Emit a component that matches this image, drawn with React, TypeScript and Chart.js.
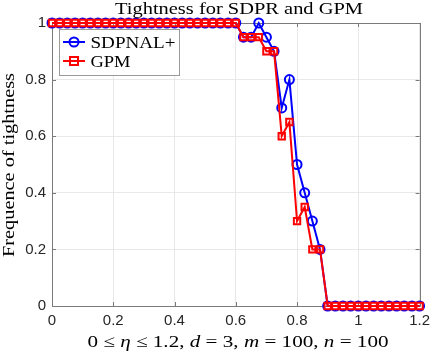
import { useEffect, useRef } from "react";
import { Chart, registerables } from "chart.js";

Chart.register(...registerables);

const etaValues = [
  0, 0.025, 0.05, 0.075, 0.1, 0.125, 0.15, 0.175, 0.2, 0.225, 0.25, 0.275, 0.3, 0.325, 0.35, 0.375,
  0.4, 0.425, 0.45, 0.475, 0.5, 0.525, 0.55, 0.575, 0.6, 0.625, 0.65, 0.675, 0.7, 0.725, 0.75, 0.775,
  0.8, 0.825, 0.85, 0.875, 0.9, 0.925, 0.95, 0.975, 1, 1.025, 1.05, 1.075, 1.1, 1.125, 1.15, 1.175, 1.2,
];
const sdpnalValues = [
  1, 1, 1, 1, 1, 1, 1, 1, 1, 1, 1, 1, 1, 1, 1, 1, 1, 1, 1, 1, 1, 1, 1, 1, 1,
  0.95, 0.95, 1, 0.95, 0.9, 0.7, 0.8, 0.5, 0.4, 0.3, 0.2,
  0, 0, 0, 0, 0, 0, 0, 0, 0, 0, 0, 0, 0,
];
const gpmValues = [
  1, 1, 1, 1, 1, 1, 1, 1, 1, 1, 1, 1, 1, 1, 1, 1, 1, 1, 1, 1, 1, 1, 1, 1, 1,
  0.95, 0.95, 0.95, 0.9, 0.9, 0.6, 0.65, 0.3, 0.35, 0.2, 0.2,
  0, 0, 0, 0, 0, 0, 0, 0, 0, 0, 0, 0, 0,
];
const xTicks = [0, 0.2, 0.4, 0.6, 0.8, 1, 1.2];
const yTicks = [0, 0.2, 0.4, 0.6, 0.8, 1];
const titleText = "Tightness for SDPR and GPM";
const yLabelText = "Frequence of tightness";
const seriesNames = ["SDPNAL+", "GPM"];
const seriesColors = ["#0000ff", "#ff0000"];

const SERIF = '"Liberation Serif", "DejaVu Serif", serif';
const SANS = '"Liberation Sans", Arial, sans-serif';

// x-label pieces: [text, italic]
const xLabelParts: [string, boolean][] = [
  ["0 \u2264 ", false],
  ["\u03B7", true],
  [" \u2264 1.2, ", false],
  ["d", true],
  [" = 3, ", false],
  ["m", true],
  [" = 100, ", false],
  ["n", true],
  [" = 100", false],
];

const fmt = (v: number) => String(Number(v.toFixed(2)));

// draw parts of text stretched horizontally to a target width, starting at left x
function drawParts(ctx: any, parts: [string, boolean][], size: number, left: number, y: number, targetW: number) {
  const fontFor = (it: boolean) => `${it ? "italic " : ""}${size}px ${SERIF}`;
  let total = 0;
  for (const [t, it] of parts) {
    ctx.font = fontFor(it);
    total += ctx.measureText(t).width;
  }
  const s = targetW / total;
  ctx.save();
  ctx.translate(left, y);
  ctx.scale(s, 1);
  ctx.textAlign = "left";
  let x = 0;
  for (const [t, it] of parts) {
    ctx.font = fontFor(it);
    ctx.fillText(t, x, 0);
    x += ctx.measureText(t).width;
  }
  ctx.restore();
}

const decorPlugin = {
  id: "decor",
  beforeDatasetsDraw(chart: any) {
    const { ctx, chartArea: a } = chart;
    ctx.save();
    ctx.strokeStyle = "#7a7a7a";
    ctx.lineWidth = 1;
    ctx.beginPath();
    ctx.rect(Math.round(a.left) + 0.5, Math.round(a.top) + 0.5, Math.round(a.right - a.left), Math.round(a.bottom - a.top));
    ctx.stroke();
    const xs = chart.scales.x;
    const ys = chart.scales.y;
    ctx.beginPath();
    for (const v of xTicks) {
      const px = Math.round(xs.getPixelForValue(v)) + 0.5;
      ctx.moveTo(px, a.bottom);
      ctx.lineTo(px, a.bottom - 4);
      ctx.moveTo(px, a.top);
      ctx.lineTo(px, a.top + 4);
    }
    for (const v of yTicks) {
      const py = Math.round(ys.getPixelForValue(v)) + 0.5;
      ctx.moveTo(a.left, py);
      ctx.lineTo(a.left + 4, py);
      ctx.moveTo(a.right, py);
      ctx.lineTo(a.right - 4, py);
    }
    ctx.stroke();
    ctx.restore();
  },
  afterDraw(chart: any) {
    const { ctx, chartArea: a } = chart;
    ctx.save();
    ctx.fillStyle = "#000";
    ctx.textBaseline = "alphabetic";
    // title
    drawParts(ctx, [[titleText, false]], 17, 239 - 124, 14, 248);
    // y label
    ctx.save();
    ctx.translate(14, 165);
    ctx.rotate(-Math.PI / 2);
    drawParts(ctx, [[yLabelText, false]], 17, -92, 0, 184);
    ctx.restore();
    // x label
    drawParts(ctx, xLabelParts, 17, 238 - 150.5, 347, 301);
    // legend
    const lx = 59.5, ly = 29.5, lw = 120, lh = 46;
    ctx.fillStyle = "#fff";
    ctx.fillRect(lx, ly, lw, lh);
    ctx.strokeStyle = "#9a9a9a";
    ctx.lineWidth = 1;
    ctx.strokeRect(lx, ly, lw, lh);
    const rows = [42, 61];
    const widths = [85, 40];
    seriesNames.forEach((name, i) => {
      const y = rows[i];
      ctx.strokeStyle = seriesColors[i];
      ctx.lineWidth = 2;
      ctx.beginPath();
      ctx.moveTo(63, y);
      ctx.lineTo(85, y);
      ctx.stroke();
      ctx.beginPath();
      if (i === 0) {
        ctx.arc(74, y, 4.5, 0, Math.PI * 2);
      } else {
        ctx.rect(70, y - 4, 8, 8);
      }
      ctx.stroke();
      ctx.fillStyle = "#000";
      ctx.textBaseline = "alphabetic";
      drawParts(ctx, [[name, false]], 17, 90.5, y + 6, widths[i]);
    });
    ctx.restore();
  },
};

export default function App() {
  const canvasRef = useRef<HTMLCanvasElement | null>(null);

  useEffect(() => {
    const canvas = canvasRef.current;
    if (!canvas) return;
    const mk = (vals: number[]) => etaValues.map((x, i) => ({ x, y: vals[i] }));
    const chart = new Chart(canvas, {
      type: "line",
      data: {
        datasets: [
          {
            label: seriesNames[0],
            data: mk(sdpnalValues),
            borderColor: seriesColors[0],
            backgroundColor: "rgba(0,0,0,0)",
            borderWidth: 2,
            pointStyle: "circle",
            pointRadius: 4.5,
            pointBorderWidth: 2,
            pointBorderColor: seriesColors[0],
            pointBackgroundColor: "rgba(0,0,0,0)",
            tension: 0,
            clip: false as any,
            order: 2,
          },
          {
            label: seriesNames[1],
            data: mk(gpmValues),
            borderColor: seriesColors[1],
            backgroundColor: "rgba(0,0,0,0)",
            borderWidth: 2,
            pointStyle: "rect",
            pointRadius: 4.5,
            pointBorderWidth: 2,
            pointBorderColor: seriesColors[1],
            pointBackgroundColor: "rgba(0,0,0,0)",
            tension: 0,
            clip: false as any,
            order: 1,
          },
        ],
      },
      options: {
        animation: false,
        responsive: false,
        maintainAspectRatio: false,
        layout: { padding: { top: 23, right: 12, left: 0, bottom: 0 } },
        plugins: {
          legend: { display: false },
          title: { display: false },
          tooltip: { enabled: false },
        },
        scales: {
          x: {
            type: "linear",
            min: 0,
            max: 1.2,
            afterBuildTicks: (s: any) => {
              s.ticks = xTicks.map((v) => ({ value: v }));
            },
            afterFit: (s: any) => {
              s.height = 47;
            },
            grid: { color: "#e8e8e8", drawTicks: false, lineWidth: 1 },
            border: { display: false },
            ticks: {
              autoSkip: false,
              maxRotation: 0,
              padding: 6,
              color: "#262626",
              font: { family: SANS, size: 15 },
              callback: (v: any) => fmt(Number(v)),
            },
          },
          y: {
            type: "linear",
            min: 0,
            max: 1,
            afterBuildTicks: (s: any) => {
              s.ticks = yTicks.map((v) => ({ value: v }));
            },
            afterFit: (s: any) => {
              s.width = 52;
            },
            grid: { color: "#e8e8e8", drawTicks: false, lineWidth: 1 },
            border: { display: false },
            ticks: {
              padding: 6,
              color: "#262626",
              font: { family: SANS, size: 15 },
              callback: (v: any) => fmt(Number(v)),
            },
          },
        },
      },
      plugins: [decorPlugin],
    });
    return () => chart.destroy();
  }, []);

  return (
    <div style={{ position: "fixed", left: 0, top: 0, width: 436, height: 353, background: "#fff" }}>
      <canvas ref={canvasRef} width={436} height={353} style={{ width: 436, height: 353, display: "block" }} />
    </div>
  );
}
